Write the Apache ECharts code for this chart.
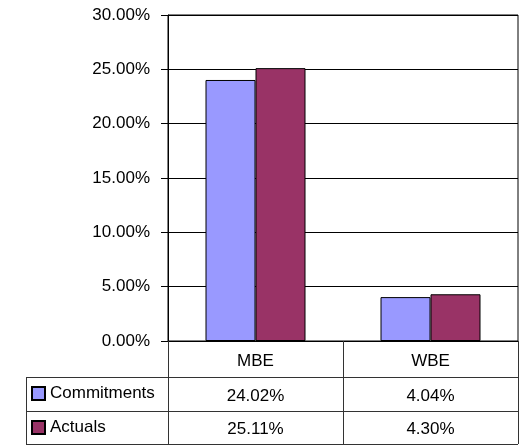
<!DOCTYPE html>
<html>
<head>
<meta charset="utf-8">
<script src="https://cdn.jsdelivr.net/npm/echarts@6/dist/echarts.min.js"></script>
<style>
html, body { margin: 0; padding: 0; background: #fff; }
#main { width: 521px; height: 446px; }
</style>
</head>
<body>
<div id="main"></div>
<script>
// data
var categories = ['MBE', 'WBE'];
var commitments = [0.2402, 0.0404];
var actuals = [0.2511, 0.0430];
var seriesNames = ['Commitments', 'Actuals'];
var yTicks = [0, 0.05, 0.10, 0.15, 0.20, 0.25, 0.30];

function pct(v) {
    return (v * 100).toFixed(2) + '%';
}

var FONT = 'Liberation Sans';
var FS = 17;
var tableLine = '#333';

var myChart = echarts.init(document.getElementById('main'));

var option = {
    animation: false,
    textStyle: { fontFamily: FONT },
    grid: {
        left: 168, right: 3, top: 15, bottom: 105,
        show: true, borderColor: '#000', borderWidth: 1
    },
    legend: {
        orient: 'vertical',
        left: 31, top: 385,
        height: 60,
        padding: 0,
        itemWidth: 13, itemHeight: 13,
        itemGap: 17,
        icon: 'rect',
        data: seriesNames,
        textStyle: { fontSize: FS, lineHeight: 17, color: '#000', fontFamily: FONT }
    },
    xAxis: [
        {
            type: 'category',
            data: categories,
            axisLine: { lineStyle: { color: '#000', width: 1 } },
            axisTick: { show: true, length: 103, lineStyle: { color: tableLine } },
            axisLabel: { margin: 12, fontSize: FS, color: '#000', fontFamily: FONT }
        },
        {
            type: 'category',
            data: commitments.map(pct),
            position: 'bottom',
            offset: 36,
            axisLine: { show: false },
            axisTick: { show: false },
            axisLabel: { margin: 11, fontSize: FS, color: '#000', fontFamily: FONT }
        },
        {
            type: 'category',
            data: actuals.map(pct),
            position: 'bottom',
            offset: 70,
            axisLine: { show: false },
            axisTick: { show: false },
            axisLabel: { margin: 10, fontSize: FS, color: '#000', fontFamily: FONT }
        }
    ],
    yAxis: {
        type: 'value',
        min: yTicks[0],
        max: yTicks[yTicks.length - 1],
        interval: 0.05,
        axisLine: { show: true, lineStyle: { color: '#000', width: 1 } },
        axisTick: { show: true, length: 7, lineStyle: { color: '#000' } },
        axisLabel: { margin: 18, fontSize: FS, color: '#000', fontFamily: FONT, formatter: pct },
        splitLine: { lineStyle: { color: '#000', width: 1 } }
    },
    series: [
        {
            name: seriesNames[0],
            type: 'bar',
            data: commitments,
            barWidth: 50,
            barGap: '0%',
            itemStyle: { color: '#9999FF', borderColor: '#000', borderWidth: 1 }
        },
        {
            name: seriesNames[1],
            type: 'bar',
            data: actuals,
            barWidth: 50,
            itemStyle: { color: '#993366', borderColor: '#000', borderWidth: 1 }
        }
    ],
    // data table lines
    graphic: [
        { type: 'line', shape: { x1: 26, y1: 377.5, x2: 518, y2: 377.5 }, style: { stroke: tableLine, lineWidth: 1 } },
        { type: 'line', shape: { x1: 26, y1: 411.5, x2: 518, y2: 411.5 }, style: { stroke: tableLine, lineWidth: 1 } },
        { type: 'line', shape: { x1: 26, y1: 444.5, x2: 518, y2: 444.5 }, style: { stroke: tableLine, lineWidth: 1 } },
        { type: 'line', shape: { x1: 26.5, y1: 377, x2: 26.5, y2: 445 }, style: { stroke: tableLine, lineWidth: 1 } }
    ]
};

myChart.setOption(option);
</script>
</body>
</html>
